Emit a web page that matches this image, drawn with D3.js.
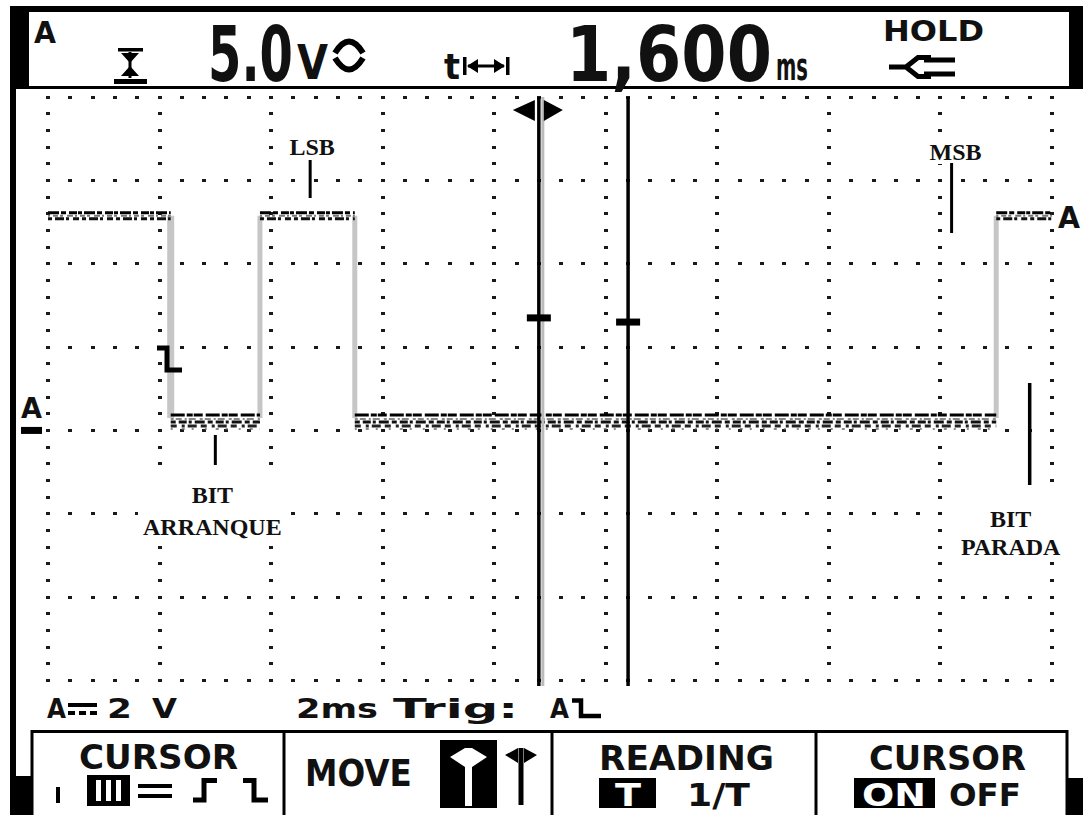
<!DOCTYPE html>
<html>
<head>
<meta charset="utf-8">
<script src="https://cdn.jsdelivr.net/npm/d3@7"></script>
<style>
  html, body { margin: 0; padding: 0; background: #fff; }
  svg { display: block; }
  .lcd { font-family: "DejaVu Sans", sans-serif; font-weight: bold; fill: #111; }
  .note { font-family: "Liberation Serif", "Times New Roman", serif; font-weight: bold; font-size: 24px; fill: #111; }
</style>
</head>
<body>
<script>
// ---- Scope capture: UART frame, 2 ms/div, 2 V/div ----
const edgeTimes = [0, 2.2, 3.8, 5.5, 17.0, 18.0];   // ms, segment boundaries
const levels    = [5.15, 0.3, 5.15, 0.3, 5.15];     // V, level of each segment
const cursorTimes = [8.8, 10.4];                     // ms
const cursorMarkVolts = [2.7, 2.6];                  // V
const noteTexts = [["LSB"], ["MSB"], ["BIT", "ARRANQUE"], ["BIT", "PARADA"]];
const noteTimes = [4.7, 16.2, 3.0, 17.6];            // ms
const headerTexts = ["A", "5.0", "V", "t", "ms", "HOLD"];
const infoTexts = ["A", "2", "V", "2ms", "Trig:", "A"];
const softkeyTitles = ["CURSOR", "MOVE", "READING", "CURSOR"];
const softkeyOptions = ["T", "1/T", "ON", "OFF"];

const W = 1083, H = 815;
const svg = d3.select("body").append("svg").attr("width", W).attr("height", H);
svg.append("rect").attr("width", W).attr("height", H).attr("fill", "#fff");

const x = d3.scaleLinear().domain([0, 18]).range([48, 1052]);
const y = d3.scaleLinear().domain([-6, 8]).range([680.5, 97]);

// text squeezed horizontally to a given width
function txt(g, s, xp, yp, size, len, fill) {
  const t = g.append("text").attr("class", "lcd").attr("font-size", size).text(s);
  if (fill) t.style("fill", fill);
  const w = t.node().getComputedTextLength() || len;
  t.attr("transform", `translate(${xp},${yp}) scale(${len / w},1)`);
  return t;
}

// ---- frame ----
const frame = svg.append("g").attr("fill", "#000");
frame.append("rect").attr("x", 10).attr("y", 6).attr("width", 1073).attr("height", 6);
frame.append("rect").attr("x", 10).attr("y", 6).attr("width", 19).attr("height", 83);
frame.append("rect").attr("x", 1069).attr("y", 6).attr("width", 14).attr("height", 83);
frame.append("rect").attr("x", 10).attr("y", 86).attr("width", 1073).attr("height", 3);
frame.append("rect").attr("x", 10).attr("y", 86).attr("width", 6).attr("height", 729);
frame.append("rect").attr("x", 10).attr("y", 776).attr("width", 22).attr("height", 39);
frame.append("rect").attr("x", 1067).attr("y", 778).attr("width", 16).attr("height", 37);

// ---- graticule dots ----
const grid = svg.append("g").attr("fill", "#1a1a1a").attr("shape-rendering", "crispEdges");
const majorV = d3.range(-6, 8.001, 2);
const majorT = d3.range(0, 18.001, 2);
const subT = d3.range(0, 46).map(i => i * 0.4);
const subV = d3.range(0, 36).map(i => -6 + i * 0.4);
majorV.forEach(v => {
  grid.selectAll(null).data(subT).join("rect")
    .attr("x", d => Math.round(x(d) - 2)).attr("y", Math.round(y(v) - 1.5)).attr("width", 4).attr("height", 3);
});
majorT.forEach(t => {
  grid.selectAll(null).data(subV).join("rect")
    .attr("x", Math.round(x(t) - 2)).attr("y", d => Math.round(y(d) - 1.5)).attr("width", 4).attr("height", 3);
});

// ---- trace ----
const segs = levels.map((v, i) => ({ t0: edgeTimes[i], t1: edgeTimes[i + 1], v }));
const trace = svg.append("g");
// transitions (light grey)
trace.selectAll(null).data(segs.slice(1)).join("line")
  .attr("x1", d => x(d.t0)).attr("x2", d => x(d.t0))
  .attr("y1", (d, i) => y(segs[i].v)).attr("y2", d => y(d.v))
  .attr("stroke", "#c6c6c6").attr("stroke-width", (d, i) => i === 0 ? 7 : 5);
// horizontal runs drawn as a grainy band
const bandHigh = [
  { o: -3, c: "#000", w: 3, d: "11 2 5 3 8 1 4 2" },
  { o: 0, c: "#777", w: 2, d: "2 3 5 2 3 4 6 2" },
  { o: 3, c: "#111", w: 3, d: "4 3 9 2 3 4 6 3" }
];
const bandLow = [
  { o: -3, c: "#000", w: 3, d: "14 2 6 1 9 3" },
  { o: 1, c: "#888", w: 2, d: "3 2 6 3 2 2 7 4" },
  { o: 4, c: "#111", w: 3, d: "5 3 8 2 3 3 10 3" },
  { o: 8, c: "#222", w: 3, d: "6 5 3 3 9 4" },
  { o: 11, c: "#666", w: 1.5, d: "2 9 3 7 2 11" }
];
segs.forEach(s => {
  const band = s.v > 2 ? bandHigh : bandLow;
  band.forEach(b => {
    trace.append("line")
      .attr("x1", x(s.t0)).attr("x2", x(s.t1))
      .attr("y1", y(s.v) + b.o).attr("y2", y(s.v) + b.o)
      .attr("stroke", b.c).attr("stroke-width", b.w).attr("stroke-dasharray", b.d);
  });
});

// ---- cursors ----
const cur = svg.append("g");
cur.append("line").attr("x1", x(cursorTimes[0]) + 4).attr("x2", x(cursorTimes[0]) + 4)
  .attr("y1", 97).attr("y2", 686).attr("stroke", "#bbb").attr("stroke-width", 3);
cursorTimes.forEach((t, i) => {
  cur.append("line").attr("x1", x(t)).attr("x2", x(t)).attr("y1", 97).attr("y2", 686)
    .attr("stroke", "#000").attr("stroke-width", 3.5);
  cur.append("rect").attr("x", x(t) - 12).attr("y", y(cursorMarkVolts[i]) - 3.5)
    .attr("width", 24).attr("height", 7).attr("fill", "#000");
});
const cx0 = x(cursorTimes[0]);
cur.append("path").attr("d", `M${cx0 - 26},110 L${cx0 - 4},100 L${cx0 - 4},121 Z M${cx0 + 24},110 L${cx0 + 5},100 L${cx0 + 5},121 Z`).attr("fill", "#000");

// ---- trigger symbol and channel markers ----
svg.append("path").attr("d", "M157,348 H167 V370 H182").attr("fill", "none").attr("stroke", "#000").attr("stroke-width", 5);
txt(svg, "A", 21, 418, 28, 21);
svg.append("rect").attr("x", 21).attr("y", y(0) - 3.5).attr("width", 21).attr("height", 7).attr("fill", "#000");
txt(svg, "A", 1058, 228, 31, 22);

// ---- annotations ----
const notes = svg.append("g");
function note(lines, cxp, baselines, bg) {
  if (bg) notes.append("rect").attr("x", bg[0]).attr("y", bg[1]).attr("width", bg[2]).attr("height", bg[3]).attr("fill", "#fff");
  lines.forEach((s, i) => notes.append("text").attr("class", "note").attr("x", cxp).attr("y", baselines[i])
    .attr("text-anchor", "middle").text(s));
}
note(noteTexts[0], x(noteTimes[0]) + 2, [155], [284, 130, 54, 28]);
notes.append("line").attr("x1", x(noteTimes[0])).attr("x2", x(noteTimes[0])).attr("y1", 160).attr("y2", 198).attr("stroke", "#000").attr("stroke-width", 3);
note(noteTexts[1], x(noteTimes[1]) + 4, [160], [928, 137, 58, 27]);
notes.append("line").attr("x1", x(noteTimes[1])).attr("x2", x(noteTimes[1])).attr("y1", 163).attr("y2", 233).attr("stroke", "#000").attr("stroke-width", 3);
note(noteTexts[2], x(noteTimes[2]) - 3, [503, 535], [138, 472, 150, 70]);
notes.append("line").attr("x1", x(noteTimes[2])).attr("x2", x(noteTimes[2])).attr("y1", 435).attr("y2", 465).attr("stroke", "#000").attr("stroke-width", 3);
note(noteTexts[3], x(noteTimes[3]) - 19, [527, 555], [955, 496, 116, 64]);
notes.append("line").attr("x1", x(noteTimes[3])).attr("x2", x(noteTimes[3])).attr("y1", 383).attr("y2", 485).attr("stroke", "#000").attr("stroke-width", 3.5);

// ---- header readout ----
const hdr = svg.append("g");
txt(hdr, headerTexts[0], 34, 43, 31, 22);
// vertical move icon
hdr.append("rect").attr("x", 118).attr("y", 48).attr("width", 25).attr("height", 3.5).attr("fill", "#000");
hdr.append("path").attr("d", "M121,53 H139 L130,63 Z M121,76 H139 L130,66 Z").attr("fill", "#000");
hdr.append("rect").attr("x", 128.5).attr("y", 52).attr("width", 3).attr("height", 26).attr("fill", "#000");
hdr.append("rect").attr("x", 114).attr("y", 79).attr("width", 33).attr("height", 5).attr("fill", "#000");
txt(hdr, headerTexts[1], 208, 81, 76, 85);
txt(hdr, headerTexts[2], 297, 79, 48, 31);
hdr.append("path").attr("d", "M335,53 Q349,30 363,53 M335,58 Q349,81 363,58").attr("fill", "none").attr("stroke", "#000").attr("stroke-width", 6);
txt(hdr, headerTexts[3], 444, 79, 36, 16);
hdr.append("rect").attr("x", 463).attr("y", 57).attr("width", 3.5).attr("height", 18).attr("fill", "#000");
hdr.append("rect").attr("x", 506).attr("y", 57).attr("width", 3.5).attr("height", 18).attr("fill", "#000");
hdr.append("rect").attr("x", 468).attr("y", 64.5).attr("width", 36).attr("height", 3).attr("fill", "#000");
hdr.append("path").attr("d", "M467,66 L478,59 L478,73 Z M505,66 L494,59 L494,73 Z").attr("fill", "#000");
const dt = d3.format(".3f")(cursorTimes[1] - cursorTimes[0]).replace(".", ",");
txt(hdr, dt, 566, 81, 76, 206);
txt(hdr, headerTexts[4], 776, 80, 38, 32);
txt(hdr, headerTexts[5], 883, 41, 28, 101);
hdr.append("path").attr("d", "M889,67 H906 M906,67 L918,57.5 H931 M906,67 L918,76.5 H931 M924,60 H955 M924,74 H955")
  .attr("fill", "none").attr("stroke", "#000").attr("stroke-width", 5);

// ---- info line ----
const info = svg.append("g");
txt(info, infoTexts[0], 47, 718, 27, 19);
info.append("rect").attr("x", 68).attr("y", 703).attr("width", 29).attr("height", 4).attr("fill", "#000");
[68, 79, 90].forEach(xx => info.append("rect").attr("x", xx).attr("y", 711).attr("width", 7).attr("height", 4).attr("fill", "#000"));
txt(info, infoTexts[1], 107, 718, 27, 25);
txt(info, infoTexts[2], 152, 718, 27, 25);
txt(info, infoTexts[3], 296, 718, 27, 82);
txt(info, infoTexts[4], 393, 718, 27, 125);
txt(info, infoTexts[5], 550, 718, 27, 19);
info.append("path").attr("d", "M572,700.5 H581 V716 H601").attr("fill", "none").attr("stroke", "#000").attr("stroke-width", 4.5);

// ---- softkey bar ----
const sk = svg.append("g");
const boxEdges = [32, 284, 552, 816, 1067];
sk.append("rect").attr("x", 32).attr("y", 731.5).attr("width", 1035).attr("height", 90)
  .attr("fill", "none").attr("stroke", "#000").attr("stroke-width", 3);
boxEdges.slice(1, 4).forEach(e => sk.append("line").attr("x1", e).attr("x2", e).attr("y1", 731).attr("y2", 815).attr("stroke", "#000").attr("stroke-width", 3));
txt(sk, softkeyTitles[0], 79, 769, 33, 159);
sk.append("rect").attr("x", 56).attr("y", 787).attr("width", 4).attr("height", 16).attr("fill", "#000");
sk.append("rect").attr("x", 87).attr("y", 775).attr("width", 43).attr("height", 31).attr("fill", "#000");
[96, 106, 116].forEach(xx => sk.append("rect").attr("x", xx).attr("y", 780).attr("width", 5).attr("height", 21).attr("fill", "#fff"));
sk.append("rect").attr("x", 138).attr("y", 784).attr("width", 34).attr("height", 4).attr("fill", "#000");
sk.append("rect").attr("x", 138).attr("y", 794).attr("width", 34).attr("height", 4).attr("fill", "#000");
sk.append("path").attr("d", "M193,800 H204 V780.5 H217 M243,780.5 H254 V800 H268").attr("fill", "none").attr("stroke", "#000").attr("stroke-width", 5);

txt(sk, softkeyTitles[1], 305, 786, 37, 107);
sk.append("rect").attr("x", 440).attr("y", 740).attr("width", 57).attr("height", 68).attr("fill", "#000");
sk.append("path").attr("d", "M450,757 L465,748 L465,767 Z M487,757 L472,748 L472,767 Z").attr("fill", "#fff");
sk.append("rect").attr("x", 465).attr("y", 748).attr("width", 7).attr("height", 58).attr("fill", "#fff");
sk.append("path").attr("d", "M505,755 L518,748 L518,763 Z M537,755 L524,748 L524,763 Z").attr("fill", "#000");
sk.append("rect").attr("x", 518.5).attr("y", 748).attr("width", 5).attr("height", 57).attr("fill", "#000");

txt(sk, softkeyTitles[2], 599, 770, 33, 175);
sk.append("rect").attr("x", 599).attr("y", 778).attr("width", 57).attr("height", 30).attr("fill", "#000");
txt(sk, softkeyOptions[0], 615, 806, 32, 26, "#fff");
txt(sk, softkeyOptions[1], 687, 806, 32, 63);

txt(sk, softkeyTitles[3], 869, 770, 33, 157);
sk.append("rect").attr("x", 854).attr("y", 778).attr("width", 81).attr("height", 30).attr("fill", "#000");
txt(sk, softkeyOptions[2], 862, 806, 32, 64, "#fff");
txt(sk, softkeyOptions[3], 949, 806, 32, 72);
</script>
</body>
</html>
